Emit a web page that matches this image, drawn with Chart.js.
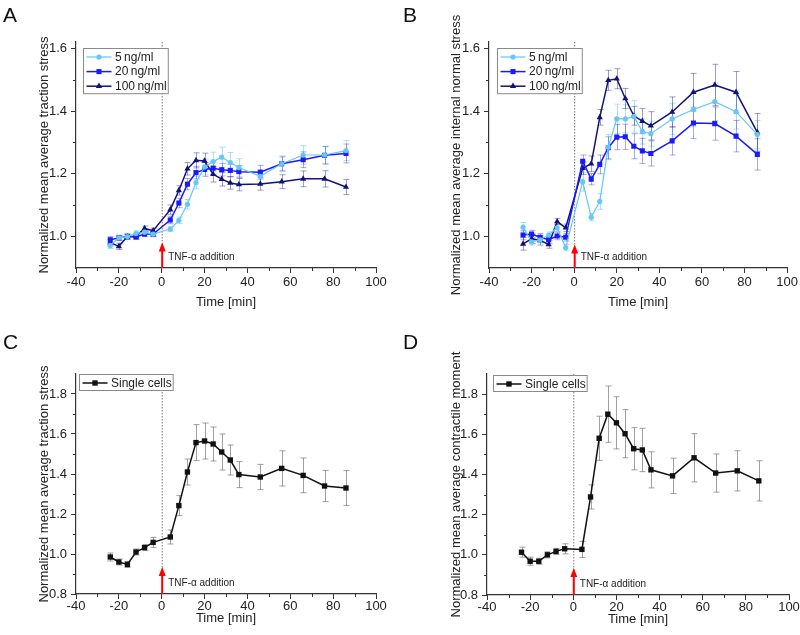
<!DOCTYPE html>
<html>
<head>
<meta charset="utf-8">
<script src="https://cdn.jsdelivr.net/npm/chart.js@4"></script>
<style>
  body { margin: 0; background: #fff; }
  #wrap { position: relative; width: 800px; height: 635px; overflow: hidden; }
  .panel { position: absolute; }
  .letter { position: absolute; font: 21px "Liberation Sans", Arial, sans-serif; line-height: 21px; color: #111; }
</style>
</head>
<body>
<div id="wrap">
  <div class="panel" style="left:0;top:0"><canvas id="chartA" width="400" height="318"></canvas></div>
  <div class="panel" style="left:400px;top:0"><canvas id="chartB" width="400" height="318"></canvas></div>
  <div class="panel" style="left:0;top:318px"><canvas id="chartC" width="400" height="317"></canvas></div>
  <div class="panel" style="left:400px;top:318px"><canvas id="chartD" width="400" height="317"></canvas></div>
  <div class="letter" style="left:3px;top:4px">A</div>
  <div class="letter" style="left:403px;top:4px">B</div>
  <div class="letter" style="left:3px;top:331px">C</div>
  <div class="letter" style="left:403px;top:331px">D</div>
</div>
<script>
// time points (min), TNF-alpha added at 0
const times = [-24, -20, -16, -12, -8, -4, 4, 8, 12, 16, 20, 24, 28, 32, 36, 46, 56, 66, 76, 86];
const concLabels = ["5\u2009ng/ml", "20\u2009ng/ml", "100\u2009ng/ml"];
const singleLabel = "Single cells";

const xTicks = [-40, -20, 0, 20, 40, 60, 80, 100];
const xMinor = [-30, -10, 10, 30, 50, 70, 90];
const yTicksAB = [1.0, 1.2, 1.4, 1.6];
const yMinorAB = [1.1, 1.3, 1.5];
const yTicksCD = [0.8, 1.0, 1.2, 1.4, 1.6, 1.8];
const yMinorCD = [0.9, 1.1, 1.3, 1.5, 1.7];

// A: traction stress, monolayers
const tracA5   = [0.972, 0.996, 1.000, 1.010, 1.014, 1.008, 1.024, 1.052, 1.103, 1.172, 1.222, 1.239, 1.253, 1.236, 1.220, 1.192, 1.232, 1.260, 1.260, 1.274];
const tracA20  = [0.990, 0.996, 1.000, 0.999, 1.008, 1.008, 1.053, 1.107, 1.167, 1.204, 1.214, 1.218, 1.213, 1.211, 1.207, 1.205, 1.232, 1.245, 1.259, 1.265];
const tracA100 = [0.981, 0.969, 1.000, 1.001, 1.026, 1.019, 1.086, 1.147, 1.216, 1.243, 1.241, 1.199, 1.183, 1.171, 1.166, 1.168, 1.175, 1.184, 1.184, 1.158];
const errA5    = [0.010, 0.008, 0.008, 0.008, 0.008, 0.008, 0.008, 0.010, 0.015, 0.020, 0.025, 0.030, 0.032, 0.032, 0.028, 0.022, 0.025, 0.030, 0.028, 0.032];
const errA20   = [0.010, 0.008, 0.008, 0.008, 0.008, 0.008, 0.012, 0.015, 0.018, 0.020, 0.022, 0.020, 0.020, 0.020, 0.020, 0.022, 0.022, 0.025, 0.028, 0.030];
const errA100  = [0.010, 0.010, 0.008, 0.008, 0.008, 0.008, 0.015, 0.015, 0.020, 0.024, 0.025, 0.025, 0.022, 0.020, 0.020, 0.020, 0.022, 0.025, 0.026, 0.024];

// B: internal normal stress, monolayers
const normB5   = [1.030, 0.983, 0.990, 1.005, 1.028, 0.965, 1.175, 1.062, 1.112, 1.285, 1.375, 1.375, 1.383, 1.335, 1.328, 1.375, 1.405, 1.430, 1.398, 1.325];
const normB20  = [1.005, 1.008, 0.998, 0.990, 1.002, 0.998, 1.240, 1.183, 1.230, 1.283, 1.317, 1.318, 1.288, 1.273, 1.265, 1.305, 1.362, 1.360, 1.320, 1.262];
const normB100 = [0.977, 0.993, 0.988, 0.975, 1.048, 1.028, 1.218, 1.232, 1.380, 1.498, 1.503, 1.440, 1.385, 1.368, 1.353, 1.397, 1.460, 1.483, 1.460, 1.332];
const errB5    = [0.015, 0.010, 0.010, 0.010, 0.012, 0.010, 0.030, 0.012, 0.025, 0.040, 0.047, 0.045, 0.050, 0.040, 0.040, 0.050, 0.055, 0.060, 0.055, 0.045];
const errB20   = [0.015, 0.012, 0.012, 0.012, 0.012, 0.012, 0.020, 0.018, 0.030, 0.035, 0.040, 0.040, 0.040, 0.040, 0.040, 0.045, 0.050, 0.053, 0.050, 0.050];
const errB100  = [0.020, 0.015, 0.015, 0.012, 0.010, 0.012, 0.020, 0.025, 0.025, 0.032, 0.032, 0.032, 0.030, 0.040, 0.045, 0.048, 0.060, 0.066, 0.066, 0.060];

// C: traction stress, single cells
const tracC = [0.985, 0.960, 0.948, 1.010, 1.032, 1.058, 1.085, 1.242, 1.410, 1.557, 1.565, 1.550, 1.510, 1.470, 1.397, 1.385, 1.428, 1.393, 1.340, 1.330];
const errC  = [0.020, 0.015, 0.015, 0.015, 0.015, 0.025, 0.035, 0.050, 0.065, 0.090, 0.090, 0.085, 0.090, 0.075, 0.065, 0.063, 0.088, 0.087, 0.078, 0.087];

// D: contractile moment, single cells
const momD = [1.013, 0.968, 0.968, 1.000, 1.017, 1.030, 1.027, 1.288, 1.580, 1.700, 1.657, 1.603, 1.528, 1.522, 1.423, 1.393, 1.483, 1.407, 1.418, 1.368];
const errD = [0.025, 0.020, 0.015, 0.015, 0.015, 0.025, 0.040, 0.060, 0.110, 0.140, 0.130, 0.120, 0.105, 0.108, 0.090, 0.088, 0.120, 0.095, 0.100, 0.100];

const FONT = '"Liberation Sans", Arial, sans-serif';
const pts = vals => times.map((t, i) => ({ x: t, y: vals[i] }));

function series(label, vals, err, color, errColor, style, radius, width) {
  return {
    label, data: pts(vals), err, errColor,
    borderColor: color, backgroundColor: color,
    pointBackgroundColor: color, pointBorderColor: color,
    pointStyle: style, pointRadius: radius, pointBorderWidth: 0,
    borderWidth: width, tension: 0
  };
}

function mark(ctx, style, x, y, r) {
  ctx.beginPath();
  if (style === "circle") ctx.arc(x, y, r, 0, Math.PI * 2);
  else if (style === "rect") { const s = r * Math.SQRT1_2; ctx.rect(x - s, y - s, 2 * s, 2 * s); }
  else {
    for (let k = 0; k < 3; k++) {
      const a = k * 2 * Math.PI / 3;
      const px = x + Math.sin(a) * r, py = y - Math.cos(a) * r;
      k ? ctx.lineTo(px, py) : ctx.moveTo(px, py);
    }
    ctx.closePath();
  }
  ctx.fill();
}

function overlay(cfg) {
  return {
    id: "overlay",
    beforeDatasetsDraw(chart) {
      const { ctx, chartArea: a, scales: { x, y } } = chart;
      const x0 = x.getPixelForValue(0);
      ctx.save();
      ctx.strokeStyle = "#555";
      ctx.lineWidth = 0.8;
      ctx.setLineDash([1.5, 1.5]);
      ctx.beginPath(); ctx.moveTo(x0 + 0.5, a.top); ctx.lineTo(x0 + 0.5, a.bottom); ctx.stroke();
      ctx.setLineDash([]);
      // error bars
      chart.data.datasets.forEach(ds => {
        ctx.strokeStyle = ds.errColor;
        ctx.lineWidth = 1;
        ds.data.forEach((p, i) => {
          const px = Math.round(x.getPixelForValue(p.x)) + 0.5;
          const t = y.getPixelForValue(p.y + ds.err[i]);
          const b = y.getPixelForValue(p.y - ds.err[i]);
          ctx.beginPath();
          ctx.moveTo(px, t); ctx.lineTo(px, b);
          ctx.moveTo(px - 3, t); ctx.lineTo(px + 3, t);
          ctx.moveTo(px - 3, b); ctx.lineTo(px + 3, b);
          ctx.stroke();
        });
      });
      ctx.restore();
    },
    afterDatasetsDraw(chart) {
      const { ctx, chartArea: a, scales: { x, y } } = chart;
      const x0 = x.getPixelForValue(0) + 0.5;
      const tip = y.getPixelForValue(cfg.arrowTip);
      ctx.save();
      ctx.strokeStyle = "#ff0000";
      ctx.fillStyle = "#ff0000";
      ctx.lineWidth = 2;
      ctx.beginPath(); ctx.moveTo(x0, a.bottom); ctx.lineTo(x0, tip + 7); ctx.stroke();
      ctx.beginPath(); ctx.moveTo(x0, tip); ctx.lineTo(x0 - 3.5, tip + 9); ctx.lineTo(x0 + 3.5, tip + 9); ctx.closePath(); ctx.fill();
      ctx.fillStyle = "#222";
      ctx.font = "10px " + FONT;
      ctx.textBaseline = "middle";
      ctx.fillText("TNF-\u03b1 addition", x0 + 6, a.bottom - 11);
      ctx.restore();
    },
    afterDraw(chart) {
      const { ctx, chartArea: a, scales: { x, y } } = chart;
      ctx.save();
      // minor ticks
      ctx.strokeStyle = "#333";
      ctx.lineWidth = 1;
      ctx.beginPath();
      xMinor.forEach(v => { const px = Math.round(x.getPixelForValue(v)) + 0.5; ctx.moveTo(px, a.bottom); ctx.lineTo(px, a.bottom + 3); });
      cfg.yMinor.forEach(v => { const py = Math.round(y.getPixelForValue(v)) + 0.5; ctx.moveTo(a.left, py); ctx.lineTo(a.left - 3, py); });
      ctx.stroke();
      // legend box
      const dss = chart.data.datasets;
      ctx.font = "12px " + FONT;
      const tw = Math.max(...dss.map(d => ctx.measureText(d.label).width));
      const bx = Math.round(a.left + cfg.legDx) + 0.5, by = Math.round(a.top + cfg.legDy) + 0.5;
      const w = 3 + 25 + 3.5 + tw + 1.5;
      const h = 8.5 + (dss.length - 1) * 14.6 + 7.5;
      ctx.fillStyle = "#fff";
      ctx.fillRect(bx, by, w, h);
      ctx.strokeStyle = "#8a8a8a";
      ctx.lineWidth = 1;
      ctx.strokeRect(bx, by, w, h);
      dss.forEach((d, i) => {
        const cy = by + 8.5 + i * 14.6;
        ctx.strokeStyle = d.borderColor;
        ctx.lineWidth = d.borderWidth;
        ctx.beginPath(); ctx.moveTo(bx + 3, cy); ctx.lineTo(bx + 28, cy); ctx.stroke();
        ctx.fillStyle = d.borderColor;
        mark(ctx, d.pointStyle, bx + 15.5, cy, d.pointRadius);
        ctx.fillStyle = "#222";
        ctx.textBaseline = "middle";
        ctx.fillText(d.label, bx + 31.5, cy + 0.5);
      });
      ctx.restore();
    }
  };
}

function makeChart(id, datasets, cfg) {
  return new Chart(document.getElementById(id), {
    type: "line",
    data: { datasets },
    plugins: [overlay(cfg)],
    options: {
      responsive: false,
      animation: false,
      layout: { padding: { left: cfg.padL, right: cfg.padR, top: cfg.padT, bottom: cfg.padB } },
      plugins: { legend: { display: false }, tooltip: { enabled: false } },
      scales: {
        x: {
          type: "linear", min: -40, max: 100,
          afterBuildTicks: s => { s.ticks = xTicks.map(v => ({ value: v })); },
          afterFit: s => { s.height = cfg.xH; },
          ticks: { color: "#222", font: { family: FONT, size: 13 }, padding: cfg.xPad, maxRotation: 0, autoSkip: false, callback: v => String(v) },
          grid: { drawOnChartArea: false, tickLength: 5, tickColor: "#333", lineWidth: 1 },
          border: { color: "#333", width: 1.2 },
          title: { display: true, text: "Time [min]", color: "#222", font: { family: FONT, size: 13 }, padding: 0 }
        },
        y: {
          type: "linear", min: cfg.yMin, max: cfg.yMax,
          afterBuildTicks: s => { s.ticks = cfg.yTicks.map(v => ({ value: v })); },
          afterFit: s => { s.width = cfg.yW; },
          ticks: { color: "#222", font: { family: FONT, size: 13 }, padding: 4, autoSkip: false, callback: v => v.toFixed(1) },
          grid: { drawOnChartArea: false, tickLength: 5, tickColor: "#333", lineWidth: 1 },
          border: { color: "#333", width: 1.2 },
          title: { display: true, text: cfg.yTitle, color: "#222", font: { family: FONT, size: 13 }, padding: 0 }
        }
      }
    }
  });
}

const LB = "#66c6f4", BL = "#1a1aff", NV = "#12127a";
const LBe = "rgba(102,198,244,0.55)", BLe = "rgba(60,60,230,0.45)", NVe = "rgba(40,40,130,0.45)";

makeChart("chartA", [
  series(concLabels[0], tracA5, errA5, LB, LBe, "circle", 2.6, 1.2),
  series(concLabels[1], tracA20, errA20, BL, BLe, "rect", 3.6, 1.5),
  series(concLabels[2], tracA100, errA100, NV, NVe, "triangle", 3.6, 1.5)
], { padL: 37, padR: 24, padT: 42, padB: 8, yW: 39, xH: 42, xPad: 2, yMin: 0.9, yMax: 1.62,
     yTicks: yTicksAB, yMinor: yMinorAB, yTitle: "Normalized mean average traction stress",
     arrowTip: 0.981, legDx: 7, legDy: 6 });

makeChart("chartB", [
  series(concLabels[0], normB5, errB5, LB, LBe, "circle", 2.6, 1.2),
  series(concLabels[1], normB20, errB20, BL, BLe, "rect", 3.6, 1.5),
  series(concLabels[2], normB100, errB100, NV, NVe, "triangle", 3.6, 1.5)
], { padL: 49, padR: 12, padT: 42, padB: 8, yW: 40, xH: 42, xPad: 2, yMin: 0.9, yMax: 1.62,
     yTicks: yTicksAB, yMinor: yMinorAB, yTitle: "Normalized mean average internal normal stress",
     arrowTip: 0.975, legDx: 8, legDy: 6 });

makeChart("chartC", [
  series(singleLabel, tracC, errC, "#111", "rgba(120,120,120,0.7)", "rect", 3.8, 1.5)
], { padL: 37, padR: 24, padT: 56, padB: 9, yW: 39, xH: 32, xPad: 0, yMin: 0.8, yMax: 1.9,
     yTicks: yTicksCD, yMinor: yMinorCD, yTitle: "Normalized mean average traction stress",
     arrowTip: 0.935, legDx: 3, legDy: 0 });

makeChart("chartD", [
  series(singleLabel, momD, errD, "#111", "rgba(120,120,120,0.7)", "rect", 3.8, 1.5)
], { padL: 49, padR: 11, padT: 56, padB: 8, yW: 38, xH: 32, xPad: 0, yMin: 0.8, yMax: 1.9,
     yTicks: yTicksCD, yMinor: yMinorCD, yTitle: "Normalized mean average contractile moment",
     arrowTip: 0.935, legDx: 6, legDy: 1 });
</script>
</body>
</html>
